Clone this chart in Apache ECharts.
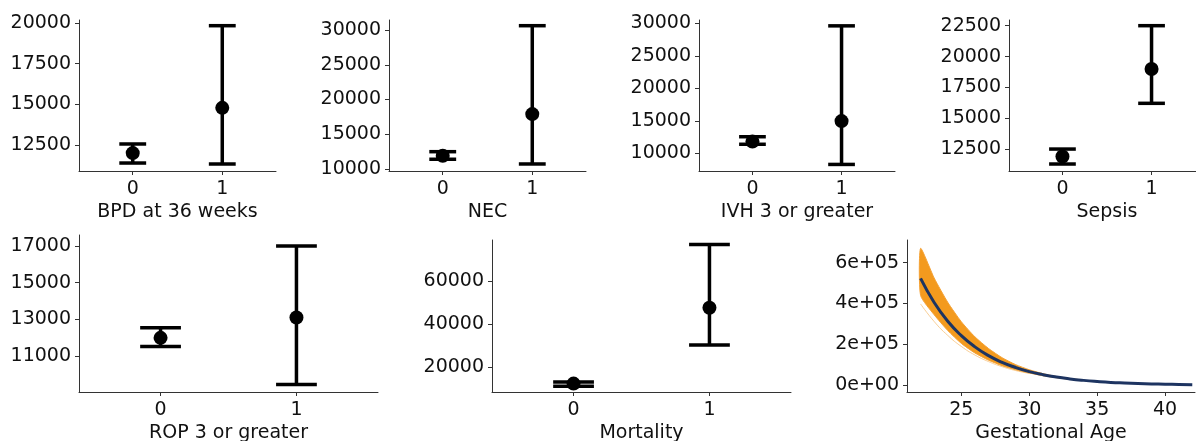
<!DOCTYPE html>
<html>
<head>
<meta charset="utf-8">
<script src="https://cdn.jsdelivr.net/npm/echarts@6/dist/echarts.min.js"></script>
<style>
  html, body { margin: 0; padding: 0; background: #fff; }
  #chart { width: 1196px; height: 441px; }
</style>
</head>
<body>
<div id="chart"></div>
<script>
// groups on each outcome panel
const groups = [0, 1];

// cost estimates by outcome (mean, lower, upper)
const bpdMean = [12000, 14780];
const bpdLow = [11390, 11330];
const bpdHigh = [12560, 19830];
const bpdTicks = [12500, 15000, 17500, 20000];

const necMean = [11900, 17900];
const necLow = [11400, 10720];
const necHigh = [12490, 30620];
const necTicks = [10000, 15000, 20000, 25000, 30000];

const ivhMean = [11800, 14950];
const ivhLow = [11390, 8290];
const ivhHigh = [12550, 29600];
const ivhTicks = [10000, 15000, 20000, 25000, 30000];

const sepsisMean = [11920, 19000];
const sepsisLow = [11310, 16220];
const sepsisHigh = [12520, 22500];
const sepsisTicks = [12500, 15000, 17500, 20000, 22500];

const ropMean = [12000, 13110];
const ropLow = [11530, 9455];
const ropHigh = [12545, 17000];
const ropTicks = [11000, 13000, 15000, 17000];

const mortMean = [12250, 47540];
const mortLow = [11000, 30270];
const mortHigh = [12980, 77000];
const mortTicks = [20000, 40000, 60000];

// gestational age curve
const gaAges = [22, 23, 24, 25, 26, 27, 28, 29, 30, 31, 32, 33, 34, 35, 36, 37, 38, 39, 40, 41, 42];
const gaMean = [523000, 405000, 313000, 243000, 188000, 145000, 112000, 87000, 67000, 52000, 40000,
  31000, 24000, 18500, 14000, 11000, 8500, 6500, 5000, 4000, 3000];
const bandAges = [22, 23, 24, 25, 26, 27, 28, 29, 30, 31, 32, 33, 34];
const bandLow = [440000, 345000, 268000, 205000, 158000, 123000, 96000, 76000, 60000, 47000, 37000, 29000, 23000];
const bandHigh = [670000, 525000, 406000, 311000, 237000, 180000, 135000, 101000, 76000, 57000, 43000, 33000, 25000];
const strayLow = [398000, 312000, 244000, 190000, 148000, 116000, 91000, 72000, 58000];
const gaXTicks = [25, 30, 35, 40];
const gaYTicks = [0, 200000, 400000, 600000];

const textColor = '#111';
const axisColor = '#333';
const font = 'DejaVu Sans';
const fontSize = 19;

const panels = [
  { name: 'BPD at 36 weeks', mean: bpdMean, low: bpdLow, high: bpdHigh, ticks: bpdTicks, min: 10900, max: 20180,
    grid: { left: 79, top: 20, width: 197, height: 151 } },
  { name: 'NEC', mean: necMean, low: necLow, high: necHigh, ticks: necTicks, min: 9710, max: 31440,
    grid: { left: 389, top: 20, width: 197, height: 151 } },
  { name: 'IVH 3 or greater', mean: ivhMean, low: ivhLow, high: ivhHigh, ticks: ivhTicks, min: 7280, max: 30500,
    grid: { left: 699, top: 20, width: 196, height: 151 } },
  { name: 'Sepsis', mean: sepsisMean, low: sepsisLow, high: sepsisHigh, ticks: sepsisTicks, min: 10745, max: 22960,
    grid: { left: 1009, top: 20, width: 196, height: 151 } },
  { name: 'ROP 3 or greater', mean: ropMean, low: ropLow, high: ropHigh, ticks: ropTicks, min: 9050, max: 17600,
    grid: { left: 79, top: 235, width: 299, height: 157 } },
  { name: 'Mortality', mean: mortMean, low: mortLow, high: mortHigh, ticks: mortTicks, min: 8330, max: 79100,
    grid: { left: 492, top: 240, width: 299, height: 152 } }
];

const grids = [];
const xAxes = [];
const yAxes = [];
const series = [];

function axisBase() {
  return {
    axisLine: { show: true, onZero: false, lineStyle: { color: axisColor, width: 1 } },
    axisTick: { show: true, length: 4, lineStyle: { color: axisColor, width: 1 } },
    axisLabel: { color: textColor, fontSize: fontSize, fontFamily: font, formatter: v => String(v) },
    splitLine: { show: false }
  };
}

function xName(a, name) {
  a.name = name;
  a.nameLocation = 'middle';
  a.nameGap = 32;
  a.nameTextStyle = { color: textColor, fontSize: fontSize, fontFamily: font };
}

function addGrid(g) {
  grids.push(Object.assign({ containLabel: false, outerBoundsMode: 'none' }, g));
}

panels.forEach((p, i) => {
  addGrid(p.grid);
  const xa = axisBase();
  xa.type = 'value';
  xa.gridIndex = i;
  xa.min = -0.6;
  xa.max = 1.6;
  xa.axisLabel.customValues = groups;
  xa.axisLabel.margin = 9;
  xa.axisTick.customValues = groups;
  xName(xa, p.name);
  xAxes.push(xa);

  const ya = axisBase();
  ya.type = 'value';
  ya.gridIndex = i;
  ya.min = p.min;
  ya.max = p.max;
  ya.axisLabel.customValues = p.ticks;
  ya.axisLabel.margin = 8;
  ya.axisTick.customValues = p.ticks;
  yAxes.push(ya);

  series.push({
    type: 'custom',
    xAxisIndex: i,
    yAxisIndex: i,
    encode: { x: 0, y: [1, 2] },
    data: groups.map((g, k) => [g, p.low[k], p.high[k]]),
    renderItem: function (params, api) {
      const x = api.value(0);
      const lo = api.coord([x, api.value(1)]);
      const hi = api.coord([x, api.value(2)]);
      const loL = api.coord([x - 0.15, api.value(1)]);
      const loR = api.coord([x + 0.15, api.value(1)]);
      const hiL = api.coord([x - 0.15, api.value(2)]);
      const hiR = api.coord([x + 0.15, api.value(2)]);
      const st = { stroke: '#000', lineWidth: 3.5 };
      return {
        type: 'group',
        children: [
          { type: 'line', shape: { x1: lo[0], y1: lo[1], x2: hi[0], y2: hi[1] }, style: st },
          { type: 'line', shape: { x1: loL[0], y1: loL[1], x2: loR[0], y2: loR[1] }, style: st },
          { type: 'line', shape: { x1: hiL[0], y1: hiL[1], x2: hiR[0], y2: hiR[1] }, style: st }
        ]
      };
    },
    z: 2
  });
  series.push({
    type: 'scatter',
    xAxisIndex: i,
    yAxisIndex: i,
    symbolSize: 14,
    itemStyle: { color: '#000', opacity: 1 },
    data: groups.map((g, k) => [g, p.mean[k]]),
    z: 3
  });
});

// gestational age panel
const gi = panels.length;
addGrid({ left: 907, top: 240, width: 288, height: 152 });
const gx = axisBase();
gx.type = 'value';
gx.gridIndex = gi;
gx.min = 21;
gx.max = 42.2;
gx.axisLabel.customValues = gaXTicks;
gx.axisLabel.margin = 9;
gx.axisTick.customValues = gaXTicks;
xName(gx, 'Gestational Age');
xAxes.push(gx);
const gy = axisBase();
gy.type = 'value';
gy.gridIndex = gi;
gy.min = -32900;
gy.max = 711000;
gy.axisLabel.customValues = gaYTicks;
gy.axisLabel.margin = 8;
gy.axisLabel.formatter = v => (v === 0 ? '0e+00' : (v / 100000) + 'e+05');
gy.axisTick.customValues = gaYTicks;
yAxes.push(gy);

series.push({
  type: 'line', xAxisIndex: gi, yAxisIndex: gi, smooth: true, symbol: 'none',
  lineStyle: { color: '#f7c27a', width: 1, opacity: 0.8 },
  data: strayLow.map((v, k) => [bandAges[k], v]), z: 1
});
// orange band of sampled curves, drawn as one polygon through the axis scales
series.push({
  type: 'custom', xAxisIndex: gi, yAxisIndex: gi,
  encode: { x: 0, y: [1, 2] },
  data: bandAges.map((a, k) => [a, bandLow[k], bandHigh[k]]),
  renderItem: function (params, api) {
    if (params.dataIndex !== 0) return null;
    const upper = bandAges.map((a, k) => api.coord([a, bandHigh[k]]));
    const lower = bandAges.map((a, k) => api.coord([a, bandLow[k]])).reverse();
    return {
      type: 'polygon',
      shape: { points: upper.concat(lower), smooth: 0.2 },
      style: { fill: '#f39a1e', stroke: '#f5a235', lineWidth: 1 }
    };
  },
  z: 2
});
series.push({
  type: 'line', xAxisIndex: gi, yAxisIndex: gi, smooth: true, symbol: 'none',
  lineStyle: { color: '#1d3461', width: 3 },
  data: gaMean.map((v, k) => [gaAges[k], v]), z: 3
});

const chart = echarts.init(document.getElementById('chart'), null, { renderer: 'canvas' });
chart.setOption({
  animation: false,
  backgroundColor: '#fff',
  grid: grids,
  xAxis: xAxes,
  yAxis: yAxes,
  series: series
});
window.addEventListener('resize', () => chart.resize());
</script>
</body>
</html>
